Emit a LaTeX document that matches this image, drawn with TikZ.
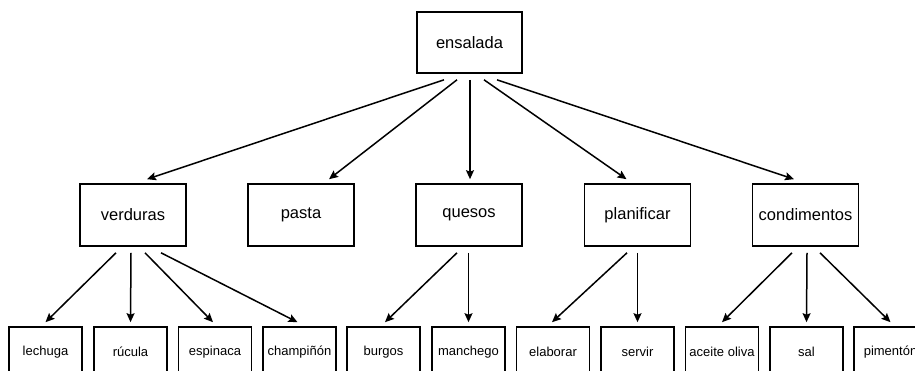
\documentclass[tikz,border=0pt]{standalone}
\usepackage{fontspec}
\setmainfont{Liberation Sans}
\usepackage{tikz}
\usetikzlibrary{arrows.meta,calc}
\tikzset{caja/.style={draw,line width=1.6pt,minimum width=106pt,minimum height=62pt,inner sep=0pt,font=\fontsize{16.5}{19}\selectfont},
  hoja/.style={draw,line width=1.6pt,minimum width=73pt,minimum height=50pt,inner sep=0pt,font=\fontsize{13}{15}\selectfont},
  flecha/.style={line width=1.5pt,-{Stealth[length=9pt,width=8pt,inset=1.5pt]}}}

\begin{document}
\begin{tikzpicture} [x=1pt,y=-1pt]
            \useasboundingbox (0,0) rectangle (915,371); \clip (0,0) rectangle (915,371);
            \node[caja,minimum width=105pt,minimum height=61pt] (ensalada) at (469.5,42.5) {ensalada};
            \node[caja] (verduras) at (133,215) {verduras}; \node[caja] (pasta) at (301,215) {pasta}; \node[caja] (quesos) at (469,215) {quesos};
            \node[caja] (planificar) at (637.5,215) {planificar}; \node[caja] (condimentos) at (805.5,215) {condimentos};
            \node[hoja] (lechuga) at (45.5,352) {lechuga}; \node[hoja] (rucula) at (130.5,352) {rúcula}; \node[hoja] (espinaca) at (215,352) {espinaca}; \node[hoja] (champinon) at (299.5,352) {champiñón};
            \node[hoja] (burgos) at (383.5,352) {burgos}; \node[hoja] (manchego) at (468.5,352) {manchego};
            \node[hoja] (elaborar) at (553,352) {elaborar}; \node[hoja] (servir) at (637.5,352) {servir};
            \node[hoja] (aceite) at (722,352) {aceite oliva}; \node[hoja] (sal) at (806.5,352) {sal}; \node[hoja] (pimenton) at (890.5,352) {pimentón};
            % ensalada -> segunda fila
            \draw[flecha] ($(ensalada.south)+(-25.5,6)$) -- ($(verduras.north)+(14,-4)$); \draw[flecha] ($(ensalada.south)+(-12.5,6)$) -- ($(pasta.north)+(28,-4)$);
            \draw[flecha] ($(ensalada.south)+(0.5,6)$) -- ($(quesos.north)+(1,-4)$);
            \draw[flecha] ($(ensalada.south)+(14.5,6)$) -- ($(planificar.north)+(-11,-4)$); \draw[flecha] ($(ensalada.south)+(27.5,6)$) -- ($(condimentos.north)+(-11.5,-4)$);
            % segunda fila -> hojas
            \draw[flecha] ($(verduras.south)+(-17,6)$) -- ($(lechuga.north)+(0,-4)$); \draw[flecha] ($(verduras.south)+(-2,6)$) -- ($(rucula.north)+(0,-4)$);
            \draw[flecha] ($(verduras.south)+(12,6)$) -- ($(espinaca.north)+(-2,-4)$); \draw[flecha] ($(verduras.south)+(28,6)$) -- ($(champinon.north)+(-2,-4)$);
            \draw[flecha] ($(quesos.south)+(-12,6)$) -- ($(burgos.north)+(1.5,-4)$); \draw[flecha] ($(quesos.south)+(-0.5,6)$) -- ($(manchego.north)+(0,-4)$);
            \draw[flecha] ($(planificar.south)+(-10.5,6)$) -- ($(elaborar.north)+(-1,-4)$); \draw[flecha] ($(planificar.south)+(0,6)$) -- ($(servir.north)+(0,-4)$);
            \draw[flecha] ($(condimentos.south)+(-13.5,6)$) -- ($(aceite.north)+(0,-4)$); \draw[flecha] ($(condimentos.south)+(1.5,6)$) -- ($(sal.north)+(0,-4)$);
            \draw[flecha] ($(condimentos.south)+(14.5,6)$) -- ($(pimenton.north)+(0,-4)$);
        \end{tikzpicture}
\end{document}
